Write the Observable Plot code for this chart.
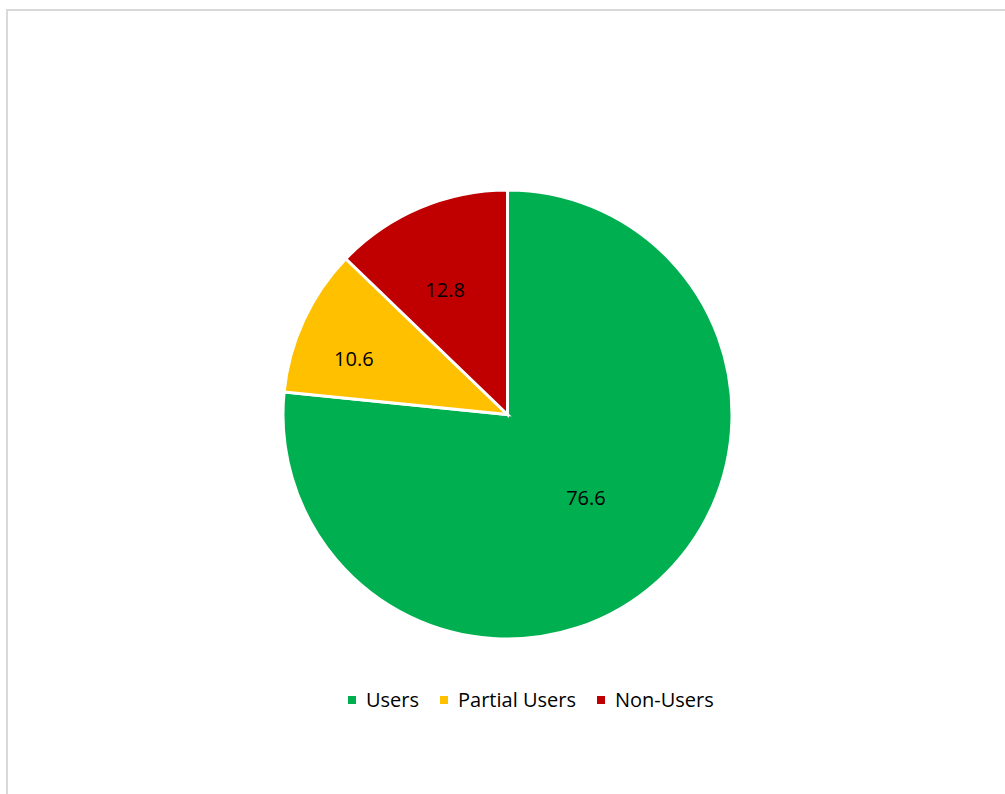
<!DOCTYPE html>
<html>
<head>
<meta charset="utf-8">
<script src="https://cdn.jsdelivr.net/npm/d3@7"></script>
<script src="https://cdn.jsdelivr.net/npm/@observablehq/plot@0.6"></script>
<style>
  html, body { margin: 0; padding: 0; background: #fff; overflow: hidden; }
  #page { position: relative; width: 1005px; height: 794px; font-family: "Open Sans", sans-serif; }
  #frame { position: absolute; left: 6px; top: 9px; width: 1020px; height: 820px;
           border-left: 2px solid #d9d9d9; border-top: 2px solid #d9d9d9; box-sizing: border-box; }
  #chart { position: absolute; left: 0; top: 0; }
  #legend { position: absolute; left: 348px; top: 686px; display: flex; align-items: center;
            font-size: 20px; color: #000; white-space: nowrap; }
  #legend .item { display: flex; align-items: center; margin-right: 21px; }
  #legend .sw { width: 8px; height: 8px; margin-right: 10px; }
</style>
</head>
<body>
<div id="page">
  <div id="frame"></div>
  <div id="chart"></div>
  <div id="legend"></div>
</div>
<script>
const categories = ["Users", "Partial Users", "Non-Users"];
const values = [76.6, 10.6, 12.8];
const colors = ["#00b050", "#ffc000", "#c00000"];
// label placement (fraction of radius, angular shift in degrees from slice middle)
const labelPlace = {"Users": [0.51, -0.8], "Partial Users": [0.73, -5], "Non-Users": [0.62, -3.8]};

const data = categories.map((c, i) => ({category: c, value: values[i]}));
const arcs = d3.pie().sort(null).value(d => d.value)(data);
const labels = arcs.map(a => {
  const [r, shift] = labelPlace[a.data.category];
  const mid = (a.startAngle + a.endAngle) / 2 + shift * Math.PI / 180;
  return {category: a.data.category, text: String(a.data.value), x: r * Math.sin(mid), y: r * Math.cos(mid)};
});

function pieMark(index, scales) {
  const cx = scales.x(0), cy = scales.y(0);
  const R = scales.x(1) - scales.x(0);
  const g = d3.create("svg:g").attr("transform", `translate(${cx},${cy})`);
  const arcGen = d3.arc().innerRadius(0).outerRadius(R);
  g.selectAll("path").data(arcs).join("path")
    .attr("d", arcGen)
    .attr("fill", d => scales.color(d.data.category))
    .attr("stroke", "#fff")
    .attr("stroke-width", 3)
    .attr("stroke-linejoin", "miter");
  return g.node();
}

const chart = Plot.plot({
  width: 1005,
  height: 680,
  margin: 0,
  x: {domain: [-1, 1], range: [283, 732], axis: null},
  y: {domain: [-1, 1], range: [639, 190], axis: null},
  color: {domain: categories, range: colors},
  style: {fontFamily: "'Open Sans', sans-serif", background: "transparent"},
  marks: [
    pieMark,
    Plot.text(labels, {x: "x", y: "y", text: "text", fill: "#000", fontSize: 20, textAnchor: "middle"})
  ]
});
document.getElementById("chart").appendChild(chart);

const legend = d3.select("#legend");
categories.forEach((c, i) => {
  const item = legend.append("div").attr("class", "item");
  item.append("div").attr("class", "sw").style("background", colors[i]);
  item.append("span").text(c);
});
</script>
</body>
</html>
